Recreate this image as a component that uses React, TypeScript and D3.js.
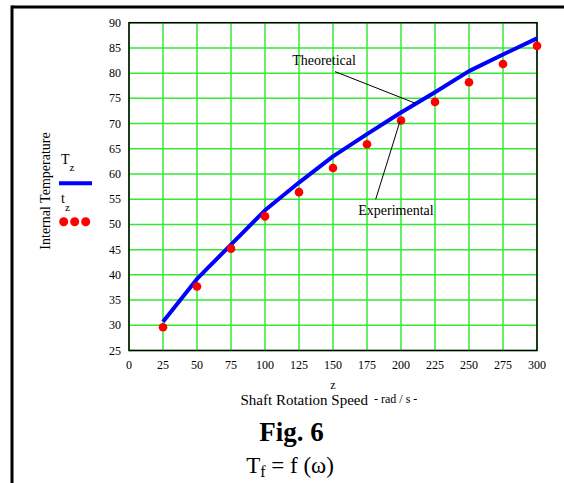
import React from "react";
import * as d3 from "d3";

const speeds = [25, 50, 75, 100, 125, 150, 175, 200, 225, 250, 275, 300];
const theoretical = [30.7, 39.2, 46.0, 52.8, 58.3, 63.5, 67.9, 72.2, 76.2, 80.4, 83.7, 86.9];
const experimental = [29.6, 37.7, 45.2, 51.6, 56.4, 61.2, 65.9, 70.6, 74.3, 78.2, 81.8, 85.4];
const xTicks = [0, 25, 50, 75, 100, 125, 150, 175, 200, 225, 250, 275, 300];
const yTicks = [25, 30, 35, 40, 45, 50, 55, 60, 65, 70, 75, 80, 85, 90];

const SERIF = "'Liberation Serif','Times New Roman',serif";

export default function App() {
  const W = 564, H = 483;
  const x = d3.scaleLinear().domain([0, 300]).range([129, 537]);
  const y = d3.scaleLinear().domain([25, 90]).range([350.5, 22.7]);
  const line = d3
    .line<number>()
    .x((_, i) => x(speeds[i]))
    .y((d) => y(d));
  const green = "#35e835";

  return (
    <svg
      width={W}
      height={H}
      style={{ position: "absolute", left: 0, top: 0, background: "#fff" }}
      fontFamily={SERIF}
    >
      {/* outer frame */}
      <line x1={12} y1={7} x2={564} y2={7} stroke="#000" strokeWidth={3} />
      <line x1={12} y1={5.5} x2={12} y2={483} stroke="#000" strokeWidth={3} />

      {/* grid */}
      {xTicks.map((t) => (
        <line key={"gx" + t} x1={x(t)} x2={x(t)} y1={y(90)} y2={y(25)} stroke={green} strokeWidth={1.5} />
      ))}
      {yTicks.map((t) => (
        <line key={"gy" + t} x1={x(0)} x2={x(300)} y1={y(t)} y2={y(t)} stroke={green} strokeWidth={1.5} />
      ))}
      <rect
        x={x(0)}
        y={y(90)}
        width={x(300) - x(0)}
        height={y(25) - y(90)}
        fill="none"
        stroke="#000"
        strokeWidth={1.5}
      />

      {/* tick labels */}
      {yTicks.map((t) => (
        <text key={"ly" + t} x={121} y={y(t) + 4} fontSize={12} textAnchor="end" fill="#000">
          {t}
        </text>
      ))}
      {xTicks.map((t) => (
        <text key={"lx" + t} x={x(t)} y={369} fontSize={12} textAnchor="middle" fill="#000">
          {t}
        </text>
      ))}

      {/* theoretical curve */}
      <path d={line(theoretical) || ""} fill="none" stroke="#0000ff" strokeWidth={4} strokeLinejoin="round" />

      {/* experimental points */}
      {experimental.map((v, i) => (
        <circle key={"p" + i} cx={x(speeds[i])} cy={y(v)} r={4.3} fill="#ff0000" />
      ))}

      {/* annotations */}
      <line x1={x(151.5)} y1={y(80.3)} x2={x(210.8)} y2={y(74.0)} stroke="#000" strokeWidth={1} />
      <text x={x(143.4)} y={y(82.5) + 4.5} fontSize={14} textAnchor="middle" fill="#000">
        Theoretical
      </text>
      <line x1={x(181.4)} y1={y(55.0)} x2={x(199.3)} y2={y(70.5)} stroke="#000" strokeWidth={1} />
      <text x={x(196.3)} y={y(52.7) + 4.5} fontSize={14} textAnchor="middle" fill="#000">
        Experimental
      </text>

      {/* y axis title */}
      <text
        transform="translate(50,191) rotate(-90)"
        fontSize={14}
        textAnchor="middle"
        fill="#000"
      >
        Internal Temperature
      </text>

      {/* legend */}
      <text x={61} y={164} fontSize={14} fill="#000">
        T
        <tspan fontSize={11} dy={7}>z</tspan>
      </text>
      <line x1={59} x2={92} y1={183.3} y2={183.3} stroke="#0000ff" strokeWidth={4} />
      <text x={61} y={203} fontSize={14} fill="#000">
        t
        <tspan fontSize={11} dy={8}>z</tspan>
      </text>
      {[63.7, 74.7, 85.7].map((cx) => (
        <circle key={"lg" + cx} cx={cx} cy={221.7} r={4.5} fill="#ff0000" />
      ))}

      {/* x axis title */}
      <text x={x(150)} y={389} fontSize={12} textAnchor="middle" fill="#000">
        z
      </text>
      <text x={240.5} y={404.5} fontSize={15} fill="#000">
        Shaft Rotation Speed
        <tspan fontSize={12} dx={6} dy={-2}>- rad / s -</tspan>
      </text>

      {/* figure caption */}
      <text x={291.5} y={441} fontSize={27} fontWeight="bold" textAnchor="middle" fill="#000">
        Fig. 6
      </text>
      <text x={290} y={473} fontSize={23} textAnchor="middle" fill="#000">
        T<tspan fontSize={16} dy={4}>f</tspan>
        <tspan dy={-4}> = f (ω)</tspan>
      </text>
    </svg>
  );
}
